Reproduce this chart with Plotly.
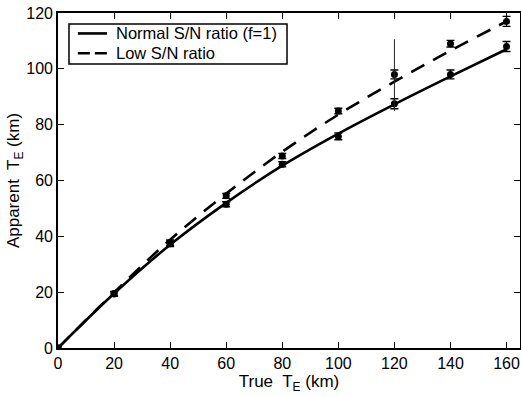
import plotly.graph_objects as go

true_te = [0, 20, 40, 60, 80, 100, 120, 140, 160]
normal_pts = [0, 19.3, 37.3, 51.5, 65.8, 75.8, 87.5, 98.0, 108.0]
normal_err = [0.6, 0.8, 1.0, 0.9, 0.9, 1.2, 1.8, 1.6, 1.8]
low_pts = [0, 19.5, 37.7, 54.5, 68.8, 84.9, 98.0, 109.0, 117.0]
low_err = [0.6, 0.8, 1.0, 0.9, 0.9, 1.0, 1.6, 1.2, 1.8]
normal_fit = [0, 19.5, 37.0, 52.0, 65.3, 76.8, 87.3, 97.3, 107.0]
low_fit = [0, 19.9, 38.8, 55.3, 70.3, 83.6, 95.4, 106.5, 117.0]
big_err_x = [120]
big_err_y = [97.5]
big_err_plus = [13.1]
big_err_minus = [12.6]
legend_labels = ["Normal S/N ratio (f=1)", "Low S/N ratio"]
legend_dashes = ["solid", "12px,5px"]

fig = go.Figure()
fig.add_trace(go.Scatter(x=true_te, y=normal_fit, mode="lines", line=dict(color="black", width=2.6, shape="spline"),
                         name=legend_labels[0], showlegend=False))
fig.add_trace(go.Scatter(x=true_te, y=low_fit, mode="lines",
                         line=dict(color="black", width=2.6, dash="15px,10px", shape="spline"),
                         name=legend_labels[1], showlegend=False))
fig.add_trace(go.Scatter(x=true_te, y=normal_pts, mode="markers", marker=dict(color="black", size=7),
                         error_y=dict(type="data", array=normal_err, color="black", thickness=1.4, width=4),
                         showlegend=False))
fig.add_trace(go.Scatter(x=true_te, y=low_pts, mode="markers", marker=dict(color="black", size=7),
                         error_y=dict(type="data", array=low_err, color="black", thickness=1.4, width=4),
                         showlegend=False))
fig.add_trace(go.Scatter(x=big_err_x, y=big_err_y, mode="markers", marker=dict(color="black", size=1, opacity=0),
                         error_y=dict(type="data", symmetric=False, array=big_err_plus, arrayminus=big_err_minus,
                                      color="#222", thickness=1, width=0),
                         showlegend=False))

# Manual legend box (paper coordinates)
shapes = [dict(type="rect", xref="paper", yref="paper", x0=0.0238, x1=0.4957, y0=0.848, y1=0.967,
               line=dict(color="black", width=1.5), fillcolor="white", layer="above")]
annotations = []
row_y = [0.939, 0.880]
for lab, dsh, yy in zip(legend_labels, legend_dashes, row_y):
    shapes.append(dict(type="line", xref="paper", yref="paper", x0=0.043, x1=0.106, y0=yy, y1=yy,
                       line=dict(color="black", width=2.6, dash=dsh), layer="above"))
    annotations.append(dict(xref="paper", yref="paper", x=0.121, y=yy, text=lab, showarrow=False,
                            xanchor="left", yanchor="middle", font=dict(size=16.5, color="black")))

axis_common = dict(showline=True, linecolor="black", linewidth=1.6, mirror="ticks", ticks="inside",
                   ticklen=6, tickcolor="black", tickwidth=1, showgrid=False, zeroline=False,
                   automargin=False, tickfont=dict(size=16, color="black"))
fig.update_layout(
    width=521, height=397,
    margin=dict(l=58, r=1, t=13, b=49),
    plot_bgcolor="white", paper_bgcolor="white",
    font=dict(family="Liberation Sans, Arial, sans-serif", size=16, color="black"),
    xaxis=dict(range=[0, 164.8], tickvals=[0, 20, 40, 60, 80, 100, 120, 140, 160],
               title=dict(text="True  T<sub>E</sub> (km)", standoff=0, font=dict(size=17)), **axis_common),
    yaxis=dict(range=[0, 120], tickvals=[0, 20, 40, 60, 80, 100, 120],
               title=dict(text="Apparent  T<sub>E</sub> (km)", standoff=2, font=dict(size=17)), **axis_common),
    shapes=shapes, annotations=annotations, showlegend=False,
)
fig.write_html("out.html", config=dict(displayModeBar=False),
               post_script="document.body.style.margin='0';document.body.style.overflow='hidden';")
